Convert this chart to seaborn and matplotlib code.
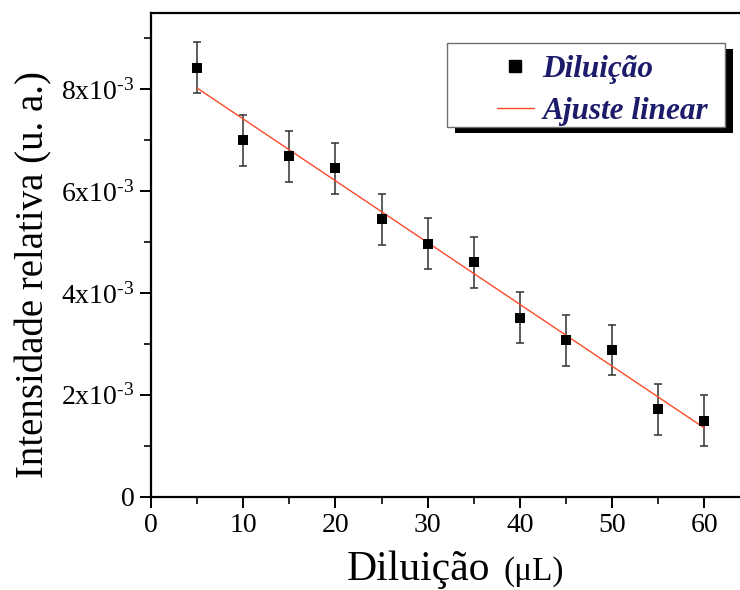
import numpy as np
import pandas as pd
import matplotlib
matplotlib.use("Agg")
import matplotlib.pyplot as plt
from matplotlib.patches import Rectangle
from matplotlib.lines import Line2D
import seaborn as sns

# ---- data ----
dilution = [5, 10, 15, 20, 25, 30, 35, 40, 45, 50, 55, 60]
intensity = [8.42e-3, 7.00e-3, 6.68e-3, 6.45e-3, 5.45e-3, 4.97e-3,
             4.60e-3, 3.51e-3, 3.07e-3, 2.88e-3, 1.72e-3, 1.49e-3]
errors = [0.5e-3] * 12
x_ticks = [0, 10, 20, 30, 40, 50, 60]
y_ticks = [0, 2e-3, 4e-3, 6e-3, 8e-3]
y_tick_labels = ["0", "2x10$^{\u2010\\mathregular{3}}$", "4x10$^{\u2010\\mathregular{3}}$",
                 "6x10$^{\u2010\\mathregular{3}}$", "8x10$^{\u2010\\mathregular{3}}$"]
legend_labels = ["Diluição", "Ajuste linear"]

df = pd.DataFrame({"x": dilution, "y": intensity, "err": errors})
slope, intercept = np.polyfit(df["x"], df["y"], 1)
fit_x = np.array([min(dilution), max(dilution)])
fit_df = pd.DataFrame({"x": fit_x, "y": slope * fit_x + intercept})

sns.set_theme(style="ticks")
plt.rcParams["font.family"] = ["Liberation Serif", "DejaVu Serif"]
plt.rcParams["mathtext.fontset"] = "custom"
plt.rcParams["mathtext.rm"] = "Liberation Serif"
plt.rcParams["mathtext.it"] = "Liberation Serif:italic"
plt.rcParams["mathtext.default"] = "regular"

W, H = 740, 590
fig = plt.figure(figsize=(7.4, 5.9), dpi=100)
ax_left, ax_right, ax_top, ax_bottom = 151, 742, 13.3, 496.7
ax = fig.add_axes([ax_left / W, 1 - ax_bottom / H,
                   (ax_right - ax_left) / W, (ax_bottom - ax_top) / H])

line_color = "#ff4a2a"
ax.errorbar(df["x"], df["y"], yerr=df["err"], fmt="none", ecolor="#303030",
            elinewidth=1.1, capsize=3, capthick=1.1, zorder=2)
sns.lineplot(data=fit_df, x="x", y="y", ax=ax, color=line_color, linewidth=1.0,
             zorder=3, legend=False)
sns.scatterplot(data=df, x="x", y="y", ax=ax, marker="s", color="black", s=62,
                edgecolor="black", linewidth=0, zorder=4, legend=False)

ax.set_xlim(0, (ax_right - ax_left) / 9.22)
ax.set_ylim(0, 9.49e-3)
ax.set_xticks(x_ticks)
ax.set_xticks(np.arange(5, 65, 10), minor=True)
ax.set_yticks(y_ticks)
ax.set_yticklabels(y_tick_labels)
ax.set_yticks(np.arange(1e-3, 9.5e-3, 2e-3), minor=True)

for s in ["left", "bottom", "top"]:
    ax.spines[s].set_linewidth(1.6)
    ax.spines[s].set_color("black")
ax.spines["right"].set_visible(False)
ax.tick_params(axis="both", which="major", direction="out", length=8, width=1.4,
               labelsize=20, colors="black", pad=4)
ax.tick_params(axis="both", which="minor", direction="out", length=5, width=1.4)
ax.tick_params(axis="x", top=False)

# axis labels
ax.set_xlabel("")
ax.set_ylabel("Intensidade relativa (u. a.)", fontsize=28, color="black")
ax.yaxis.set_label_coords(52 / W, 1 - 275 / H, transform=fig.transFigure)
fig.text(347 / W, 1 - 580 / H, "Diluição", fontsize=30, color="black",
         ha="left", va="baseline")
fig.text(503 / W, 1 - 580 / H, "(μL)", fontsize=24, color="black",
         ha="left", va="baseline")

# legend frame with solid shadow
frame_x0, frame_x1, frame_y0, frame_y1 = 446.7, 725, 42.7, 126.7
sh_dx, sh_dy = 8.3, 6.7
ax.add_patch(Rectangle(((frame_x0 + sh_dx) / W, 1 - (frame_y1 + sh_dy) / H),
                       (frame_x1 - frame_x0) / W, (frame_y1 - frame_y0) / H,
                       transform=fig.transFigure, facecolor="black",
                       edgecolor="none", zorder=4.5, clip_on=False))
ax.add_patch(Rectangle((frame_x0 / W, 1 - frame_y1 / H),
                       (frame_x1 - frame_x0) / W, (frame_y1 - frame_y0) / H,
                       transform=fig.transFigure, facecolor="white",
                       edgecolor="#707070", linewidth=1.0, zorder=4.6,
                       clip_on=False))

handles = [
    Line2D([], [], marker="s", linestyle="none", color="black", markersize=8.4),
    Line2D([], [], color=line_color, linewidth=1.0),
]
leg = ax.legend(handles, legend_labels, loc="upper left",
                bbox_to_anchor=(496.7 / W, 1 - 55 / H),
                bbox_transform=fig.transFigure, frameon=False,
                borderpad=0, borderaxespad=0,
                handlelength=1.19, handletextpad=0.28, labelspacing=0.40,
                prop={"family": "Liberation Serif", "weight": "bold",
                      "style": "italic", "size": 22.5})
leg.set_zorder(6)
for t in leg.get_texts():
    t.set_color("#1c1c6b")

fig.savefig("out.png", dpi=100)
